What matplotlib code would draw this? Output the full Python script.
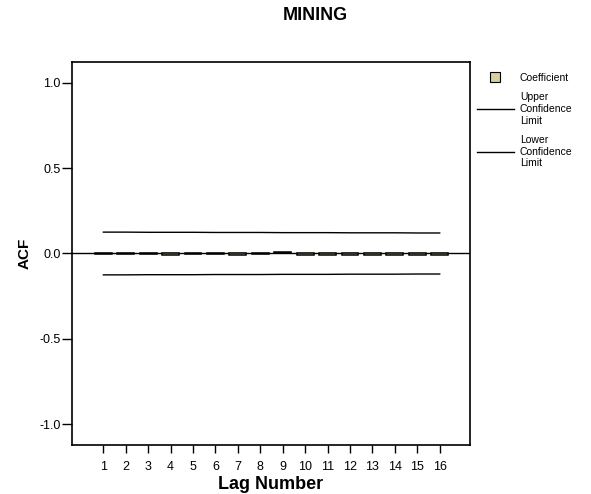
import numpy as np
import matplotlib.pyplot as plt
from matplotlib.lines import Line2D

plt.rcParams['font.family'] = ['Liberation Sans', 'DejaVu Sans']
plt.rcParams['axes.unicode_minus'] = False

# autocorrelation by lag
lags = np.arange(1, 17)
acf = [-0.002, -0.003, -0.003, -0.010, -0.005, -0.003, -0.007, -0.004,
       0.008, -0.010, -0.009, -0.006, -0.009, -0.010, -0.006, -0.010]
upper_conf = [0.125, 0.125, 0.124, 0.124, 0.124, 0.123, 0.123, 0.123,
              0.122, 0.122, 0.122, 0.121, 0.121, 0.121, 0.120, 0.120]
lower_conf = [-0.125, -0.125, -0.124, -0.124, -0.124, -0.123, -0.123, -0.123,
              -0.122, -0.122, -0.122, -0.121, -0.121, -0.121, -0.120, -0.120]

bar_color = '#d8cf9e'

fig = plt.figure(figsize=(5.91, 4.94), dpi=100)
ax = fig.add_axes([0.1218, 0.0992, 0.6734, 0.7753])

ax.bar(lags, acf, width=0.75, color=bar_color, edgecolor='black', linewidth=1.1, zorder=3)
ax.plot(lags, upper_conf, color='black', linewidth=1)
ax.plot(lags, lower_conf, color='black', linewidth=1)
ax.axhline(0, color='black', linewidth=1, zorder=2)

ax.set_xlim(-0.4, 17.35)
ax.set_ylim(-1.12, 1.12)
ax.set_xticks(lags)
ax.set_yticks([1.0, 0.5, 0.0, -0.5, -1.0])
ax.set_yticklabels(['1.0', '0.5', '0.0', '-0.5', '-1.0'])
ax.tick_params(axis='x', direction='out', length=6, width=1, labelsize=9, pad=5.5)
ax.tick_params(axis='y', direction='out', length=7, width=1, labelsize=9, pad=1)

for s in ax.spines.values():
    s.set_linewidth(1.2)

ax.set_xlabel('Lag Number', fontsize=13, fontweight='bold', labelpad=2)
ax.set_ylabel('ACF', fontsize=11, fontweight='bold', labelpad=6)

fig.text(0.533, 0.968, 'MINING', fontsize=13, fontweight='bold', ha='center', va='center')

handles = [
    Line2D([], [], marker='s', linestyle='none', markersize=7,
           markerfacecolor=bar_color, markeredgecolor='black', markeredgewidth=0.8),
    Line2D([], [], color='black', linewidth=1),
    Line2D([], [], color='black', linewidth=1),
]
labels = ['Coefficient', 'Upper\nConfidence\nLimit', 'Lower\nConfidence\nLimit']
leg = ax.legend(handles, labels, loc='upper left', bbox_to_anchor=(1.0, 0.99),
                frameon=False, fontsize=7.5, handlelength=3.5, handletextpad=0.6,
                labelspacing=0.9, borderaxespad=0.3)

fig.savefig('out.png', dpi=100)
